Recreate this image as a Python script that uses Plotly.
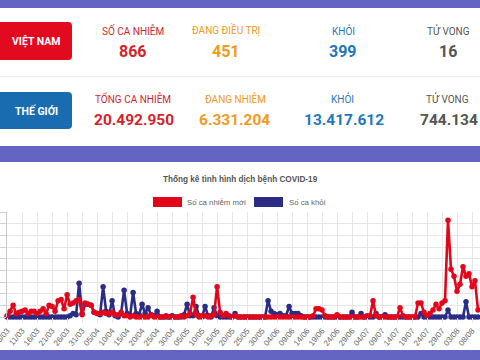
import plotly.graph_objects as go
import pandas as pd

# ---------------- data ----------------
start_date = "2020-03-06"
new_cases = [1, 5, 10, 3, 4, 5, 6, 3, 5, 5,
             3, 5, 7, 3, 10, 9, 5, 14, 15, 7,
             19, 11, 12, 14, 15, 2, 12, 11, 10, 4,
             3, 3, 4, 3, 3, 4, 2, 2, 4, 1,
             1, 0, 1, 0, 0, 0, 0, 0, 2, 0,
             0, 0, 0, 1, 0, 0, 0, 0, 1, 0,
             1, 3, 17, 2, 0, 1, 1, 0, 1, 2,
             26, 4, 1, 3, 1, 0, 1, 0, 0, 0,
             0, 0, 0, 0, 0, 0, 0, 0, 0, 0,
             0, 0, 0, 0, 0, 0, 0, 0, 0, 0,
             0, 0, 1, 7, 7, 6, 1, 0, 0, 0,
             2, 0, 0, 0, 0, 0, 0, 0, 0, 0,
             1, 1, 14, 1, 0, 0, 0, 0, 0, 0,
             0, 8, 1, 0, 0, 0, 0, 12, 12, 4,
             1, 3, 6, 11, 7, 12, 14, 83, 41, 35,
             22, 28, 43, 35, 37, 26, 31, 6]
recovered = [0, 0, 0, 0, 0, 0, 0, 0, 0, 0,
             0, 0, 0, 0, 0, 0, 0, 0, 0, 0,
             0, 1, 3, 2, 29, 3, 11, 11, 10, 4,
             3, 2, 26, 5, 2, 14, 1, 0, 3, 23,
             3, 1, 21, 3, 2, 11, 3, 8, 2, 1,
             5, 0, 0, 0, 0, 1, 0, 0, 0, 2,
             11, 1, 1, 9, 1, 0, 9, 1, 0, 8,
             1, 0, 0, 0, 0, 0, 3, 0, 0, 0,
             0, 0, 0, 0, 0, 0, 0, 14, 5, 3,
             2, 3, 1, 1, 9, 3, 3, 3, 1, 0,
             0, 0, 0, 0, 0, 0, 0, 0, 0, 0,
             0, 0, 0, 0, 0, 4, 0, 0, 3, 0,
             0, 0, 0, 3, 0, 0, 2, 0, 0, 0,
             0, 0, 0, 0, 0, 0, 0, 0, 3, 0,
             0, 0, 0, 0, 0, 0, 0, 6, 0, 0,
             0, 0, 0, 13, 0, 0, 0, 0]
dates = pd.date_range(start_date, periods=len(new_cases), freq="D")

vn_labels = ["SỐ CA NHIỄM", "ĐANG ĐIỀU TRỊ", "KHỎI", "TỬ VONG"]
vn_values = ["866", "451", "399", "16"]
world_labels = ["TỔNG CA NHIỄM", "ĐANG NHIỄM", "KHỎI", "TỬ VONG"]
world_values = ["20.492.950", "6.331.204", "13.417.612", "744.134"]
stat_colors = ["#d71f2b", "#f39a1e", "#1f78be", "#555555"]
series_names = ["Số ca nhiễm mới", "Số ca khỏi"]
chart_title = "Thống kê tình hình dịch bệnh COVID-19"

# ---------------- layout helpers ----------------
W, H = 480, 360
L, R, T, B = 7, 480, 212, 317
PURPLE = "#6465c3"
RED = "#e3061b"
NAVY = "#2a2c86"


def px(x):
    return (x - L) / (R - L)


def py(y):
    return (B - y) / (B - T)


shapes = []
annotations = []


def rect(x0, y0, x1, y1, color, radius=0):
    if radius == 0:
        shapes.append(dict(type="rect", xref="paper", yref="paper",
                           x0=px(x0), x1=px(x1), y0=py(y1), y1=py(y0),
                           fillcolor=color, line_width=0, layer="below"))
    else:
        r = radius
        pts = (f"M {px(x0 + r)},{py(y0)} L {px(x1 - r)},{py(y0)} "
               f"Q {px(x1)},{py(y0)} {px(x1)},{py(y0 + r)} "
               f"L {px(x1)},{py(y1 - r)} Q {px(x1)},{py(y1)} {px(x1 - r)},{py(y1)} "
               f"L {px(x0 + r)},{py(y1)} Q {px(x0)},{py(y1)} {px(x0)},{py(y1 - r)} "
               f"L {px(x0)},{py(y0 + r)} Q {px(x0)},{py(y0)} {px(x0 + r)},{py(y0)} Z")
        shapes.append(dict(type="path", xref="paper", yref="paper", path=pts,
                           fillcolor=color, line_width=0, layer="below"))


def text(x, y, s, size, color, family, bold=False, xanchor="center"):
    annotations.append(dict(xref="paper", yref="paper", x=px(x), y=py(y),
                            text=f"<b>{s}</b>" if bold else s, showarrow=False,
                            xanchor=xanchor, yanchor="middle",
                            font=dict(size=size, color=color, family=family)))


NUMF = "Roboto"
SANS = "Liberation Sans"

# background cards
rect(0, 8, 480, 146, "#ffffff")
shapes.append(dict(type="line", xref="paper", yref="paper", x0=px(0), x1=px(480),
                   y0=py(76.5), y1=py(76.5), line=dict(color="#ececec", width=1), layer="below"))
rect(0, 162, 480, 350, "#ffffff")

# left badges
rect(-6, 22, 72, 60, "#e20a1e", radius=4)
rect(-6, 92, 72, 129, "#1a6cb0", radius=4)
text(36, 41, "VIỆT NAM", 10.5, "#ffffff", NUMF, bold=True)
text(36, 111, "THẾ GIỚI", 10.5, "#ffffff", NUMF, bold=True)

vn_x = [133, 226, 343, 448]
wd_lx = [133, 235, 342, 447]
wd_vx = [134, 234, 344, 449]
for i in range(4):
    text(vn_x[i], 30, vn_labels[i], 10, stat_colors[i], NUMF)
    text(vn_x[i], 51, vn_values[i], 16, stat_colors[i], NUMF, bold=True)
    text(wd_lx[i], 99, world_labels[i], 10, stat_colors[i], NUMF)
    text(wd_vx[i], 120, world_values[i], 15.5, stat_colors[i], NUMF, bold=True)

# chart title & legend
text(240, 179, chart_title, 8.2, "#555555", SANS, bold=True)
rect(153, 197, 182, 207, RED)
text(185, 202, series_names[0], 7.8, "#666666", SANS, xanchor="left")
rect(254, 197, 283, 207, NAVY)
text(287, 202, series_names[1], 7.8, "#666666", SANS, xanchor="left")

fig = go.Figure()
fig.add_trace(go.Scatter(x=dates, y=recovered, mode="lines+markers", name=series_names[1],
                         line=dict(color=NAVY, width=2.6),
                         marker=dict(size=5.5, color=NAVY), cliponaxis=False))
fig.add_trace(go.Scatter(x=dates, y=new_cases, mode="lines+markers", name=series_names[0],
                         line=dict(color=RED, width=2.6),
                         marker=dict(size=5.5, color=RED), cliponaxis=False))

fig.update_layout(
    width=W, height=H,
    margin=dict(l=L, r=W - R, t=T, b=H - B, autoexpand=False),
    paper_bgcolor=PURPLE, plot_bgcolor="rgba(0,0,0,0)",
    showlegend=False,
    shapes=shapes, annotations=annotations,
    xaxis=dict(type="date", range=["2020-03-05 23:00", "2020-08-10 16:00"],
               tick0="2020-03-06", dtick=5 * 86400000, tickformat="%d/%m",
               tickangle=-50, tickfont=dict(size=8, color="#666666", family=SANS),
               ticklabeloverflow="allow", automargin=False,
               showgrid=True, gridcolor="#e6e6e6", gridwidth=1,
               ticks="outside", ticklen=5, tickcolor="#e6e6e6",
               showline=False, zeroline=False),
    yaxis=dict(range=[0, 90], dtick=10, showticklabels=False, automargin=False,
               showgrid=True, gridcolor="#e6e6e6", gridwidth=1,
               ticks="outside", ticklen=7, tickcolor="#d0d0d0",
               showline=True, linecolor="#c8c8c8", linewidth=1, zeroline=False),
)

fig.write_html("out.html", config={"displayModeBar": False},
               post_script="document.body.style.margin='0';document.body.style.overflow='hidden';")
